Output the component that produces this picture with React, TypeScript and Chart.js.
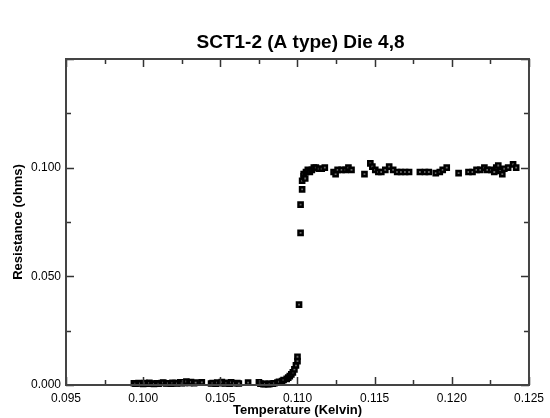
import React, { useEffect, useRef } from "react";
import { Chart, registerables } from "chart.js";

Chart.register(...registerables);

const titleText = "SCT1-2 (A type) Die 4,8";
const xTitle = "Temperature (Kelvin)";
const yTitle = "Resistance (ohms)";

const xMin = 0.095;
const xMax = 0.125;
const xStep = 0.005;
const yMin = 0;
const yMax = 0.15;
const yStep = 0.05;

// Superconducting transition: temperature (K) and resistance (ohms)
const temperature = [
  0.0994, 0.0995, 0.0997, 0.0998, 0.1000, 0.1001, 0.1003, 0.1004, 0.1006, 0.1007,
  0.1009, 0.1010, 0.1012, 0.1013, 0.1015, 0.1016, 0.1018, 0.1019, 0.1021, 0.1022,
  0.1024, 0.1025, 0.1027, 0.1028, 0.1030, 0.1031, 0.1033, 0.1034, 0.1038,
  0.1044, 0.1045, 0.1047, 0.1048, 0.1050, 0.1051, 0.1053, 0.1054, 0.1056, 0.1057,
  0.1059, 0.1061, 0.1062, 0.1068,
  0.1075, 0.1076, 0.1078, 0.1079, 0.1081, 0.1082, 0.1084, 0.1085, 0.1087, 0.1088,
  0.1090, 0.1091, 0.1093, 0.1094, 0.1095, 0.1096, 0.1097, 0.1098, 0.1099, 0.1100,
  0.1100,
  0.1101, 0.1102, 0.1102, 0.1103, 0.1103, 0.1104, 0.1104, 0.1105,
  0.11055, 0.11067, 0.1108, 0.11093, 0.11106, 0.11119, 0.11138, 0.11157, 0.11177,
  0.11234, 0.11247, 0.1126, 0.11286, 0.11312, 0.1133, 0.1135,
  0.11434, 0.11472, 0.11485, 0.11504, 0.11524, 0.11543, 0.11569, 0.11594, 0.1162,
  0.11646, 0.11671, 0.11697, 0.11723, 0.11793, 0.11826, 0.11851, 0.11896, 0.11922,
  0.11941, 0.11967, 0.12044, 0.12108, 0.12134, 0.1216, 0.12185, 0.12211, 0.1223,
  0.12256, 0.12275, 0.12288, 0.12301, 0.12314, 0.12327, 0.1234, 0.12365, 0.12397,
  0.12417,
];

const resistance = [
  0.0008, 0.0006, 0.0009, 0.0007, 0.0005, 0.0009, 0.0006, 0.0010, 0.0007, 0.0005,
  0.0008, 0.0006, 0.0009, 0.0011, 0.0007, 0.0008, 0.0006, 0.0010, 0.0009, 0.0007,
  0.0012, 0.0008, 0.0010, 0.0016, 0.0009, 0.0014, 0.0008, 0.0011, 0.0012,
  0.0007, 0.0009, 0.0006, 0.0011, 0.0008, 0.0013, 0.0007, 0.0010, 0.0006, 0.0012,
  0.0008, 0.0009, 0.0007, 0.0011,
  0.0012, 0.0006, 0.0004, 0.0005, 0.0004, 0.0005, 0.0006, 0.0008, 0.0011, 0.0015,
  0.0018, 0.0023, 0.0028, 0.0034, 0.0041, 0.0049, 0.0058, 0.0072, 0.0090, 0.0110,
  0.0130,
  0.0370, 0.0700, 0.0830, 0.0900, 0.0940, 0.0960, 0.0970, 0.0950,
  0.0980, 0.0990, 0.0980, 0.0990, 0.1000, 0.1000, 0.0995, 0.0995, 0.1000,
  0.0980, 0.0970, 0.0990, 0.0990, 0.0990, 0.1000, 0.0990,
  0.0970, 0.1020, 0.1005, 0.0990, 0.0980, 0.0980, 0.0990, 0.1005, 0.0990,
  0.0980, 0.0980, 0.0980, 0.0980, 0.0980, 0.0980, 0.0980, 0.0975, 0.0980,
  0.0990, 0.1000, 0.0975, 0.0980, 0.0980, 0.0990, 0.0990, 0.1000, 0.0990,
  0.0990, 0.0980, 0.1000, 0.1010, 0.0985, 0.0970, 0.0995, 0.1000, 0.1015,
  0.1000,
];

const FONT = "'Liberation Sans', Arial, Helvetica, sans-serif";

const framePlugin = {
  id: "frameAndTicks",
  afterDatasetsDraw(chart: any) {
    const { ctx, chartArea } = chart;
    const xs = chart.scales.x;
    const ys = chart.scales.y;
    const { left, right, top, bottom } = chartArea;
    ctx.save();
    ctx.strokeStyle = "#333";
    ctx.lineWidth = 1.5;
    for (let i = 0; i <= Math.round((xMax - xMin) / (xStep / 2)); i++) {
      const v = xMin + (i * xStep) / 2;
      const px = Math.round(xs.getPixelForValue(v)) + 0.5;
      const len = i % 2 === 0 ? 8 : 5;
      ctx.beginPath();
      ctx.moveTo(px, bottom);
      ctx.lineTo(px, bottom - len);
      ctx.moveTo(px, top);
      ctx.lineTo(px, top + len);
      ctx.stroke();
    }
    for (let i = 0; i <= Math.round((yMax - yMin) / (yStep / 2)); i++) {
      const v = yMin + (i * yStep) / 2;
      const py = Math.round(ys.getPixelForValue(v)) + 0.5;
      const len = i % 2 === 0 ? 8 : 5;
      ctx.beginPath();
      ctx.moveTo(left, py);
      ctx.lineTo(left + len, py);
      ctx.moveTo(right, py);
      ctx.lineTo(right - len, py);
      ctx.stroke();
    }
    ctx.strokeStyle = "#444";
    ctx.lineWidth = 2;
    ctx.strokeRect(left, top, right - left, bottom - top);

    ctx.fillStyle = "#000";
    ctx.textAlign = "center";
    ctx.textBaseline = "middle";
    ctx.font = `bold 19px ${FONT}`;
    ctx.fillText(titleText, (left + right) / 2 + 3, 43);
    ctx.font = `bold 13px ${FONT}`;
    ctx.fillText(xTitle, (left + right) / 2, 410);
    ctx.save();
    ctx.translate(18, (top + bottom) / 2);
    ctx.rotate(-Math.PI / 2);
    ctx.fillText(yTitle, 0, 0);
    ctx.restore();
    ctx.restore();
  },
};

export default function App() {
  const ref = useRef<HTMLCanvasElement | null>(null);
  useEffect(() => {
    document.body.style.margin = "0";
    const canvas = ref.current;
    if (!canvas) return;
    const points = temperature.map((t, i) => ({ x: t, y: resistance[i] }));
    const chart = new Chart(canvas, {
      type: "scatter",
      data: {
        datasets: [
          {
            data: points,
            pointStyle: "rect",
            radius: 3,
            backgroundColor: "#666",
            borderColor: "#000",
            borderWidth: 2.4,
            clip: false as any,
          },
        ],
      },
      options: {
        animation: false,
        responsive: false,
        maintainAspectRatio: false,
        devicePixelRatio: 1,
        layout: { padding: { top: 59, right: 17, left: 0, bottom: 0 } },
        plugins: {
          legend: { display: false },
          title: { display: false },
          tooltip: { enabled: false },
        },
        scales: {
          x: {
            type: "linear",
            min: xMin,
            max: xMax,
            grid: { display: false, drawTicks: false },
            border: { display: false },
            afterFit: (s: any) => {
              s.height = 33;
            },
            ticks: {
              stepSize: xStep,
              padding: 6,
              maxRotation: 0,
              autoSkip: false,
              color: "#000",
              font: { family: FONT, size: 12 },
              callback: (v: any) => Number(v).toFixed(3),
            },
          },
          y: {
            type: "linear",
            min: yMin,
            max: yMax,
            grid: { display: false, drawTicks: false },
            border: { display: false },
            afterFit: (s: any) => {
              s.width = 66;
            },
            ticks: {
              stepSize: yStep,
              padding: 5,
              color: "#000",
              font: { family: FONT, size: 12 },
              callback: (v: any) => (Number(v) > 0.14 ? "" : Number(v).toFixed(3)),
            },
          },
        },
      },
      plugins: [framePlugin],
    });
    return () => chart.destroy();
  }, []);
  return <canvas ref={ref} width={550} height={418} style={{ display: "block" }} />;
}
